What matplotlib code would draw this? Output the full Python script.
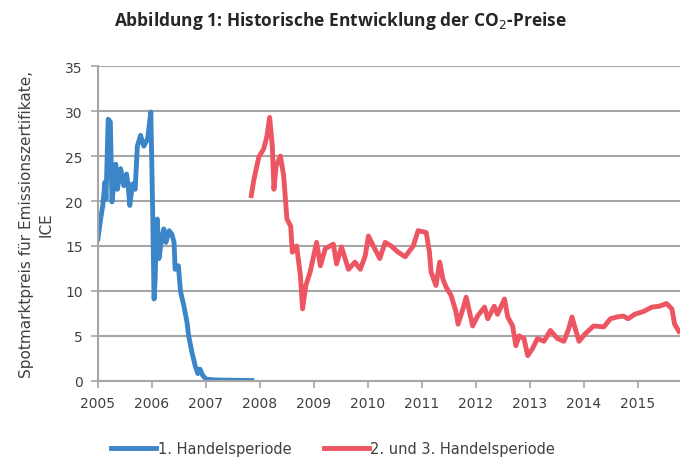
import matplotlib
matplotlib.use("Agg")
import matplotlib.pyplot as plt

# 1. Handelsperiode (Jahr als Dezimalzahl, Preis EUR/t)
p1_years = [2005.00, 2005.05, 2005.09, 2005.13, 2005.15, 2005.19, 2005.23, 2005.26,
            2005.33, 2005.36, 2005.42, 2005.48, 2005.53, 2005.56, 2005.59, 2005.64,
            2005.69, 2005.73, 2005.79, 2005.85, 2005.92, 2005.98, 2006.01, 2006.04,
            2006.06, 2006.07, 2006.10, 2006.13, 2006.18, 2006.22, 2006.26, 2006.32,
            2006.37, 2006.41, 2006.43, 2006.49, 2006.53, 2006.59, 2006.65, 2006.68,
            2006.74, 2006.80, 2006.85, 2006.89, 2006.94, 2007.00, 2007.06, 2007.15,
            2007.30, 2007.60, 2007.85]
p1_prices = [15.8, 18.0, 19.5, 22.1, 20.2, 29.1, 28.8, 19.9,
             24.1, 21.3, 23.6, 21.7, 23.0, 21.7, 19.5, 21.9,
             21.3, 26.1, 27.3, 26.1, 26.9, 29.9, 20.2, 9.1,
             11.3, 13.9, 18.0, 13.6, 15.8, 16.9, 15.4, 16.7,
             16.3, 15.4, 12.4, 12.8, 9.9, 8.4, 6.5, 5.0,
             3.2, 1.7, 0.8, 1.3, 0.6, 0.2, 0.15, 0.1,
             0.08, 0.05, 0.03]

# 2. und 3. Handelsperiode
p2_years = [2007.84, 2007.89, 2007.98, 2008.07, 2008.13, 2008.18, 2008.23, 2008.26,
            2008.30, 2008.38, 2008.44, 2008.50, 2008.57, 2008.60, 2008.68, 2008.75,
            2008.79, 2008.85, 2008.93, 2009.05, 2009.12, 2009.21, 2009.36, 2009.42,
            2009.51, 2009.64, 2009.76, 2009.86, 2009.95, 2010.01, 2010.10, 2010.22,
            2010.32, 2010.43, 2010.56, 2010.69, 2010.84, 2010.93, 2011.08, 2011.14,
            2011.17, 2011.26, 2011.33, 2011.39, 2011.45, 2011.54, 2011.63, 2011.67,
            2011.76, 2011.82, 2011.88, 2011.94, 2012.03, 2012.16, 2012.22, 2012.34,
            2012.40, 2012.53, 2012.59, 2012.68, 2012.74, 2012.80, 2012.89, 2012.96,
            2013.05, 2013.14, 2013.26, 2013.38, 2013.51, 2013.63, 2013.72, 2013.78,
            2013.84, 2013.91, 2014.02, 2014.18, 2014.37, 2014.49, 2014.61, 2014.73,
            2014.82, 2014.94, 2015.10, 2015.26, 2015.40, 2015.53, 2015.63, 2015.68,
            2015.76]
p2_prices = [20.6, 22.4, 24.9, 25.8, 27.2, 29.3, 26.1, 21.3,
             23.9, 25.0, 22.8, 18.0, 17.2, 14.3, 15.0, 11.7,
             8.0, 10.6, 12.1, 15.4, 12.8, 14.7, 15.2, 13.0,
             14.9, 12.4, 13.2, 12.4, 13.9, 16.1, 15.0, 13.6,
             15.4, 15.0, 14.3, 13.8, 15.0, 16.7, 16.5, 14.3,
             12.1, 10.6, 13.2, 11.3, 10.4, 9.5, 7.7, 6.3,
             8.0, 9.3, 7.7, 6.1, 7.2, 8.2, 6.9, 8.3,
             7.4, 9.1, 7.1, 6.1, 3.9, 5.0, 4.7, 2.8,
             3.6, 4.7, 4.4, 5.6, 4.7, 4.4, 5.8, 7.1,
             5.8, 4.4, 5.2, 6.1, 6.0, 6.9, 7.1, 7.2,
             6.9, 7.4, 7.7, 8.2, 8.3, 8.6, 8.0, 6.3,
             5.5]

year_ticks = list(range(2005, 2016))
y_ticks = [0, 5, 10, 15, 20, 25, 30, 35]

BLUE = "#3d85c9"
RED = "#ec5561"
GRID = "#a6a6a6"
TXT = "#404040"

plt.rcParams['font.family'] = ['DejaVu Sans']

fig = plt.figure(figsize=(6.8, 4.6), dpi=100)
ax = fig.add_axes([0.144, 0.17, 0.856, 0.684])

ax.plot(p1_years, p1_prices, color=BLUE, lw=3.5, solid_joinstyle='round',
        label='1. Handelsperiode')
ax.plot(p2_years, p2_prices, color=RED, lw=3.5, solid_joinstyle='round',
        label='2. und 3. Handelsperiode')

ax.set_xlim(2005, 2015.78)
ax.set_ylim(0, 35)
ax.set_xticks(year_ticks)
ax.set_xticklabels([str(y) for y in year_ticks])
ax.set_yticks(y_ticks)

ax.grid(axis='y', color=GRID, lw=1.5)
ax.set_axisbelow(True)
for side in ['top', 'right']:
    ax.spines[side].set_visible(False)
for side in ['left', 'bottom']:
    ax.spines[side].set_color(GRID)
    ax.spines[side].set_linewidth(1.5)
ax.tick_params(axis='both', colors=GRID, width=1.2, length=5, labelsize=10,
               labelcolor=TXT)
ax.tick_params(axis='x', pad=6)
ax.tick_params(axis='y', pad=6)

ax.set_ylabel('Spotmarktpreis für Emissionszertifikate,\nICE', fontsize=11,
              color=TXT, labelpad=8, linespacing=1.4)

fig.text(0.5, 0.955, 'Abbildung 1: Historische Entwicklung der CO$_2$-Preise',
         ha='center', va='center', fontsize=12.5, fontweight='bold',
         color='#262626', family=['Open Sans', 'DejaVu Sans'])

fig.legend(loc='center', bbox_to_anchor=(0.49, 0.022), ncol=2, frameon=False,
           fontsize=10.5, handlelength=3.1, handletextpad=0.1,
           columnspacing=2.2, labelcolor=TXT)

fig.savefig('out.png', dpi=100)
